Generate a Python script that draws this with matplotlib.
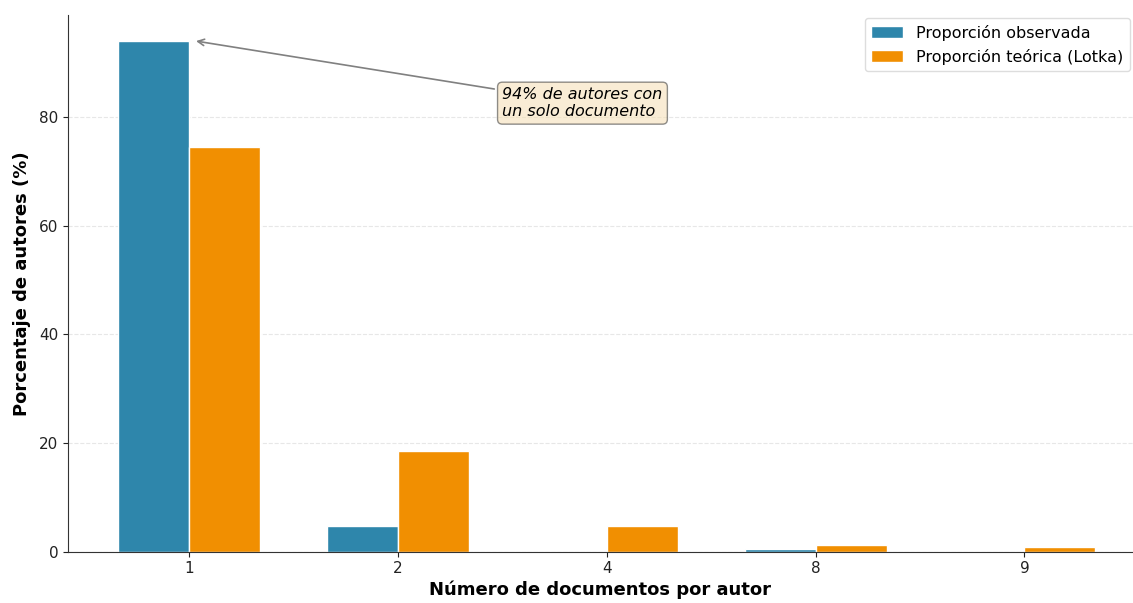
import numpy as np
import matplotlib.pyplot as plt

# Data
categories = ["1", "2", "4", "8", "9"]
observed = [94.0, 4.8, 0.0, 0.45, 0.0]
theoretical = [74.5, 18.6, 4.65, 1.15, 0.85]

blue = "#2E86AB"
orange = "#F18F01"

fig = plt.figure(figsize=(11.33, 6.03), dpi=100)
ax = fig.add_axes([0.060, 0.085, 0.94, 0.89])

x = np.arange(len(categories))
width = 0.34

ax.bar(x - width / 2, observed, width, color=blue, edgecolor="white",
       linewidth=1, label="Proporción observada")
ax.bar(x + width / 2, theoretical, width, color=orange, edgecolor="white",
       linewidth=1, label="Proporción teórica (Lotka)")

ax.set_xticks(x)
ax.set_xticklabels(categories)
ax.set_xlim(-0.58, 4.52)
ax.set_ylim(0, 98.7)
ax.set_yticks([0, 20, 40, 60, 80])
ax.tick_params(labelsize=11, colors="#222222")

ax.set_xlabel("Número de documentos por autor", fontsize=13, fontweight="bold",
              labelpad=3)
ax.set_ylabel("Porcentaje de autores (%)", fontsize=13, fontweight="bold",
              labelpad=6)

ax.yaxis.grid(True, linestyle="--", alpha=0.3)
ax.set_axisbelow(True)
for side in ["top", "right"]:
    ax.spines[side].set_visible(False)
for side in ["left", "bottom"]:
    ax.spines[side].set_color("#333333")

ax.annotate("94% de autores con\nun solo documento",
            xy=(0.02, observed[0]), xytext=(1.5, 82.5),
            fontsize=11.5, style="italic", va="center", ha="left",
            bbox=dict(boxstyle="round,pad=0.3", facecolor="#F5DEB3", alpha=0.55,
                      edgecolor="#333333"),
            arrowprops=dict(arrowstyle="->", color="gray", lw=1.2))

ax.legend(loc="upper right", fontsize=11.5, framealpha=1, edgecolor="#dddddd",
          borderaxespad=0.2)

fig.savefig("out.png", dpi=100)
